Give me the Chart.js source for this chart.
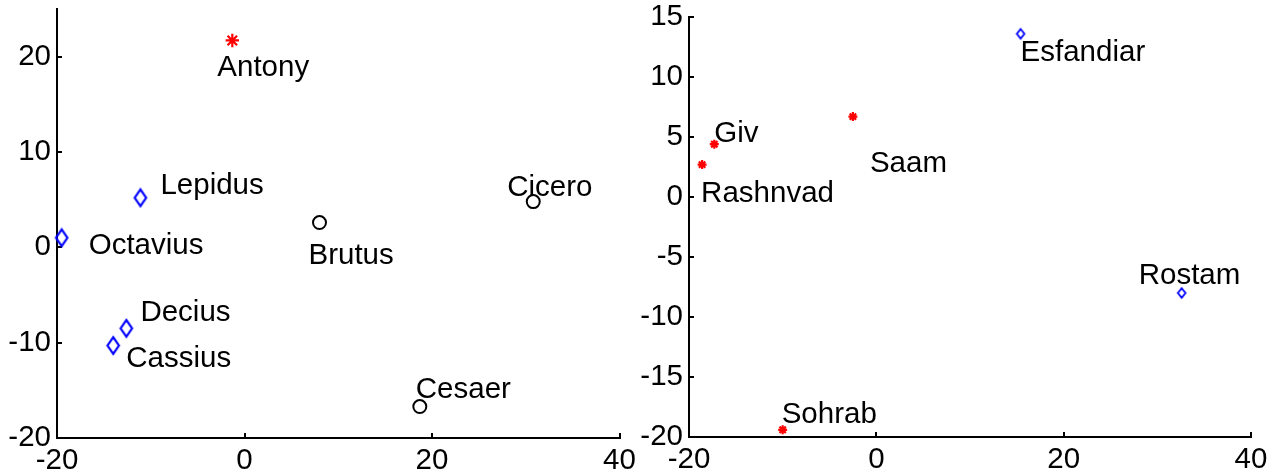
<!DOCTYPE html>
<html><head><meta charset="utf-8">
<script src="https://cdn.jsdelivr.net/npm/chart.js@4.4.1/dist/chart.umd.min.js"></script>
<style>
html,body{margin:0;padding:0;background:#fff;overflow:hidden}
#wrapL{position:absolute;left:0;top:0;width:640px;height:476px}
#wrapR{position:absolute;left:640px;top:0;width:639px;height:476px}
</style></head><body>
<div id="wrapL"><canvas id="cL"></canvas></div>
<div id="wrapR"><canvas id="cR"></canvas></div>
<script>
// ---------------- data ----------------
const leftXTicks = [-20, 0, 20, 40];
const leftYTicks = [-20, -10, 0, 10, 20];
const rightXTicks = [-20, 0, 20, 40];
const rightYTicks = [-20, -15, -10, -5, 0, 5, 10, 15];

const leftStarNames = ['Antony'];
const leftStarX = [-1.3];
const leftStarY = [21.7];

const leftDiamondNames = ['Lepidus', 'Octavius', 'Decius', 'Cassius'];
const leftDiamondX = [-11.1, -19.5, -12.6, -14.0];
const leftDiamondY = [5.2, 1.0, -8.5, -10.3];

const leftCircleNames = ['Brutus', 'Cicero', 'Cesaer'];
const leftCircleX = [8.0, 30.8, 18.7];
const leftCircleY = [2.6, 4.8, -16.7];

const rightStarNames = ['Giv', 'Rashnvad', 'Saam', 'Sohrab'];
const rightStarX = [-17.3, -18.6, -2.5, -10.0];
const rightStarY = [4.4, 2.7, 6.7, -19.4];

const rightDiamondNames = ['Esfandiar', 'Rostam'];
const rightDiamondX = [15.4, 32.6];
const rightDiamondY = [13.6, -8.0];

// ------------- label placement (pixel offset from marker to text start / baseline) -------------
const leftStarOffsets = [[-15, 36]];
const leftDiamondOffsets = [[20, -4], [27, 16], [14, -7], [13, 21]];
const leftCircleOffsets = [[-11, 41], [-26, -6], [-4, -9]];
const rightStarOffsets = [[0, -2], [-1, 37], [17, 55], [-1, -7]];
const rightDiamondOffsets = [[0, 27], [-43, -9]];

const FONT = '"Liberation Sans", Arial, Helvetica, sans-serif';

function makeDiamond(hw, hh, lw, color) {
  const c = document.createElement('canvas');
  const w = Math.ceil(2 * hw + lw + 2), h = Math.ceil(2 * hh + lw + 2);
  c.width = w; c.height = h;
  const g = c.getContext('2d');
  const cx = w / 2, cy = h / 2;
  g.strokeStyle = color; g.lineWidth = lw; g.lineJoin = 'miter';
  g.beginPath();
  g.moveTo(cx, cy - hh); g.lineTo(cx + hw, cy); g.lineTo(cx, cy + hh); g.lineTo(cx - hw, cy);
  g.closePath(); g.stroke();
  return c;
}

function pts(xs, ys) { return xs.map((x, i) => ({x: x, y: ys[i]})); }

const labelPlugin = {
  id: 'pointNameLabels',
  afterDatasetsDraw(chart) {
    const ctx = chart.ctx;
    ctx.save();
    ctx.font = '29.5px ' + FONT;
    ctx.fillStyle = '#000';
    ctx.textAlign = 'left';
    ctx.textBaseline = 'alphabetic';
    chart.data.datasets.forEach((ds, i) => {
      const meta = chart.getDatasetMeta(i);
      meta.data.forEach((el, j) => {
        const o = ds.labelOffsets[j];
        ctx.fillText(ds.labelNames[j], el.x + o[0], el.y + o[1]);
      });
    });
    ctx.restore();
  }
};

function axis(min, max, tickArr, isX, fitSize) {
  return {
    type: 'linear', position: isX ? 'bottom' : 'left', min: min, max: max,
    afterBuildTicks: s => { s.ticks = tickArr.map(v => ({value: v})); },
    afterFit: s => {
      if (isX) s.height = fitSize; else s.width = fitSize;
      s.paddingTop = 0; s.paddingBottom = 0; s.paddingLeft = 0; s.paddingRight = 0;
    },
    border: {display: true, color: '#000', width: 2},
    grid: {display: true, drawOnChartArea: false, drawTicks: true, tickLength: -5, color: '#000', lineWidth: 2},
    ticks: {color: '#000', font: {family: FONT, size: 29.5}, padding: isX ? 10 : 11,
      autoSkip: false, maxRotation: 0, minRotation: 0, callback: v => String(v)}
  };
}

function baseOptions(xs, ys, pad) {
  return {
    responsive: true, maintainAspectRatio: false, animation: false, events: [],
    layout: {padding: pad},
    plugins: {legend: {display: false}, tooltip: {enabled: false}},
    scales: {x: xs, y: ys}
  };
}

new Chart(document.getElementById('cL'), {
  type: 'scatter',
  data: {datasets: [
    {data: pts(leftStarX, leftStarY), labelNames: leftStarNames, labelOffsets: leftStarOffsets,
     pointStyle: 'star', pointRadius: 6.7, borderWidth: 2.2, borderColor: '#ff0000', backgroundColor: '#ff0000', clip: false},
    {data: pts(leftDiamondX, leftDiamondY), labelNames: leftDiamondNames, labelOffsets: leftDiamondOffsets,
     pointStyle: makeDiamond(5.7, 8.4, 2.2, '#0000ff'), pointRadius: 8, clip: false},
    {data: pts(leftCircleX, leftCircleY), labelNames: leftCircleNames, labelOffsets: leftCircleOffsets,
     pointStyle: 'circle', pointRadius: 6.5, borderWidth: 2, borderColor: '#000', backgroundColor: 'rgba(0,0,0,0)', clip: false}
  ]},
  options: baseOptions(axis(-20, 40, leftXTicks, true, 38), axis(-20, 25, leftYTicks, false, 57),
    {top: 7, right: 20.5, left: 0, bottom: 0}),
  plugins: [labelPlugin]
});

new Chart(document.getElementById('cR'), {
  type: 'scatter',
  data: {datasets: [
    {data: pts(rightStarX, rightStarY), labelNames: rightStarNames, labelOffsets: rightStarOffsets,
     pointStyle: 'star', pointRadius: 4.5, borderWidth: 2.2, borderColor: '#ff0000', backgroundColor: '#ff0000', clip: false},
    {data: pts(rightDiamondX, rightDiamondY), labelNames: rightDiamondNames, labelOffsets: rightDiamondOffsets,
     pointStyle: makeDiamond(3.8, 4.8, 1.8, '#0000ff'), pointRadius: 5, clip: false}
  ]},
  options: baseOptions(axis(-20, 40, rightXTicks, true, 39), axis(-20, 15, rightYTicks, false, 49),
    {top: 17, right: 28, left: 0, bottom: 0}),
  plugins: [labelPlugin]
});
</script>
</body></html>
